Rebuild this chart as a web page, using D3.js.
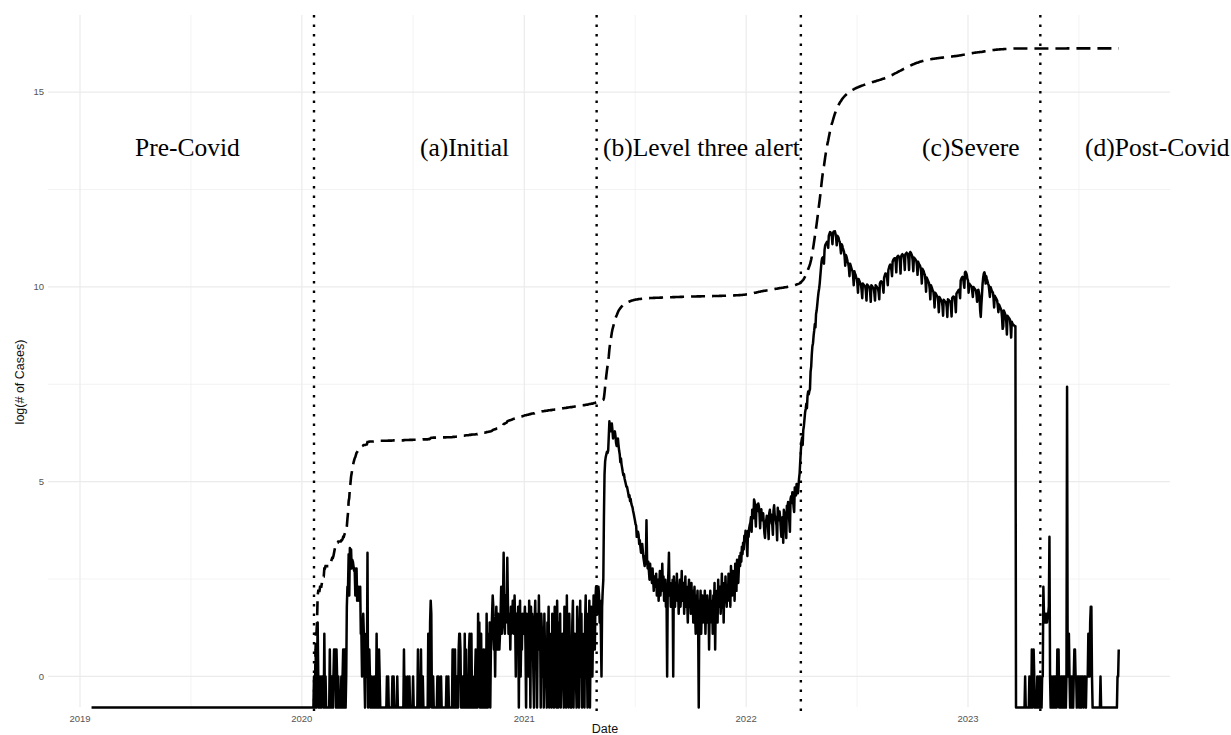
<!DOCTYPE html>
<html>
<head>
<meta charset="utf-8">
<script src="https://cdn.jsdelivr.net/npm/d3@7"></script>
<style>
  html, body { margin: 0; padding: 0; background: #ffffff; }
  svg { display: block; }
</style>
</head>
<body>
<svg id="chart" width="1231" height="735"></svg>
<script>
// Daily confirmed cases, one inner array per calendar month.
// 2020 begins on 21 January (first reported case).
const cases2020 = [
  [1,0,0,2,0,1,4,1,0,0,1],
  [0,0,1,1,1,0,3,0,1,0, 0,0,0,0,0,2,0,0,1,1, 0,1,2,2,2,0,2,1,0],
  [1,0,0,0,0,1,0,1,2,0, 2,2,0,1,6,10,10,23,8,27, 18,26,16,20,19,17,15,15,8,16, 16],
  [7,9,10,7,8,10,3,3,1,3, 5,3,1,0,2,3,1,24,0,2, 2,1,0,0,1,0,0,0,1,0],
  [0,0,3,0,0,0,2,1,0,0, 0,0,0,0,0,0,0,0,0,1, 0,1,0,0,0,0,0,0,1,0, 1],
  [0,0,0,0,0,1,0,0,0,0, 0,0,0,0,0,0,2,0,1,0, 0,0,1,0,0,1,0,0,0,0],
  [0,1,0,0,0,0,0,0,0,2, 0,0,0,0,2,0,0,1,0,0, 0,0,0,0,0,0,3,0,0,4, 7],
  [5,0,0,1,0,0,0,0,0,0, 1,0,1,0,0,0,1,0,0,0, 0,0,0,0,0,1,0,0,1,0, 0],
  [0,0,0,0,2,2,0,0,2,0, 0,1,0,0,2,3,3,2,0,0, 0,1,0,0,3,0,2,0,1,0],
  [0,2,3,0,0,3,0,1,0,0, 0,1,2,0,2,0,5,1,4,0, 3,3,0,1,0,2,1,0,2,0, 5],
  [1,0,3,1,4,0,2,3,5,8, 6,2,3,1,4,6,3,2,5,4, 2,3,5,10,3,4,7,24,5,3],
  [8,4,6,21,7,3,4,5,2,6, 3,4,7,5,3,8,4,1,5,2, 3,6,0,4,7,1,3,2,5,4, 3]
];
const cases2021 = [
  [4,6,2,0,5,3,3,1,7,4, 0,6,2,5,3,1,0,4,7,2, 5,0,3,2,8,2,4,0,5,3, 1],
  [3,0,5,2,1,1,0,4,2,6, 0,3,1,1,0,5,2,1,0,6, 1,3,0,7,2,0,4,1],
  [5,0,2,1,3,1,0,6,2,1, 0,8,1,3,0,5,2,1,0,1, 4,7,0,2,3,1,1,0,6,2, 4],
  [0,3,7,1,5,0,2,1,3,0, 4,8,1,2,0,5,3,7,0,2, 6,4,1,3,8,5,2,7,10,6],
  [6,5,10,8,4,7,3,1,6,9, 12,60,180,250,280,300,320,310,330,480, 700,600,540,590,660,560,450,500,520,540, 480],
  [400,370,420,450,380,330,300,245,270,230, 210,190,175,180,160,150,140,130,130,120, 110,100,105,90,95,85,80,77,70,65],
  [60,55,50,48,36,36,41,38,30,33, 28,24,27,30,25,21,19,17,22,18, 55,20,16,19,15,12,18,13,14,11, 16],
  [12,9,13,10,11,14,8,9,12,7, 10,15,8,11,9,18,10,13,7,9, 12,6,8,1,10,14,24,8,11,6, 9],
  [7,12,1,13,9,6,11,8,14,7, 10,5,9,12,6,8,15,7,9,11, 5,8,13,6,10,7,4,9,12,6],
  [8,5,11,6,9,4,7,10,5,3, 8,6,9,4,0,7,5,9,3,6, 8,4,7,5,9,3,6,4,8,5, 7],
  [2,6,9,5,4,7,3,8,6,11, 2,7,5,9,4,12,6,8,10,5, 7,14,6,9,4,11,7,13,8,6],
  [10,7,14,9,12,6,17,11,8,15, 10,13,7,18,12,9,20,14,11,16, 22,17,24,19,28,23,31,26,37,33, 42]
];
const cases2022 = [
  [38,29,22,42,36,45,49,52,60,41, 72,65,58,94,88,62,47,82,76,70, 85,78,64,45,68,73,55,61,66,52, 40],
  [35,48,55,62,58,47,34,66,72,57, 64,51,49,38,70,81,63,59,54,48, 33,76,62,55,69,58,44,36],
  [45,60,31,72,66,58,47,35,80,76, 88,69,54,41,95,102,86,113,97,78, 68,128,117,104,140,125,110,130,160,185, 250],
  [330,420,460,380,560,620,740,880,960,1100, 980,1350,1500,1400,1520,1600,2500,2850,3900,4800, 5200,6300,7200,8500,7800,11000,12000,14000,16500,19000],
  [21000,24000,29000,35000,42000,46000,47000,46000,40000,57000, 64000,66000,68000,70000,67000,60000,82000,86000,90000,89000, 84000,80000,66000,88000,91000,88000,92000,86000,78000,64000, 82000],
  [80000,78000,72000,70000,62000,52000,66000,64000,60000,57000, 54000,48000,38000,50000,48000,45000,42000,40000,36000,29000, 40000,38000,36000,34000,33000,29000,23000,33000,31000,30000],
  [28000,27000,24000,19000,27000,26000,25000,24000,23000,20000, 16500,24000,23500,23000,22500,22000,19500,15500,23500,23000, 22500,22000,21500,19000,15000,23000,22500,22000,21500,21000, 18500],
  [15500,23000,22500,22000,21500,21000,19000,16000,24000,25000, 25500,25000,24500,22000,19000,28000,29500,31000,31000,30500, 27000,23000,34000,36000,38000,39000,38000,34000,29000,42000, 44000],
  [45000,46000,46000,41000,32000,47000,48000,49000,48000,47000, 41000,31000,48000,50000,51000,50000,49000,44000,34000,51000, 52000,53000,52000,51000,45000,34000,52000,54000,53000,51000],
  [49000,43000,33000,47000,46000,45000,44000,43000,38000,30000, 42000,40000,39000,38000,36000,32000,24000,35000,34000,33000, 31000,30000,26000,19500,28000,27000,26000,25000,24000,21000, 16000],
  [23000,22000,21000,20000,19500,17000,13000,19000,18500,18000, 17500,17000,15000,11500,17000,16500,16000,15500,15000,13500, 10500,15800,15500,15200,15000,14800,13000,10200,16000,15800],
  [15500,15300,15000,13000,10300,16500,17000,17200,17000,16500, 14500,11500,18500,19000,19500,20000,20500,19000,16500,26000, 27000,28000,28500,28000,24000,21500,32000,32500,31500,30000, 27000]
];
const cases2023 = [
  [26000,19000,24000,23500,23000,22500,22000,19500,17000,22000, 21500,21000,20500,20000,18000,15000,20000,20500,19000,17000, 12000,10200,14000,18000,24000,28000,31000,32000,30000,24000, 29000],
  [27000,25500,24000,23000,20000,17000,22000,21000,20000,19500, 19000,16500,13000,17500,17000,16500,16000,15500,13500,11500, 14000,13500,13000,12500,12000,10000,7500,8000],
  [12000,11500,11000,10500,9000,6500,10500,10200,10000,9800, 9500,8000,6000,9000,8600,8400,8300,8200,8000,8000, 0,0,0,0,0,0,0,0,0,0, 0],
  [0,0,0,0,1,0,0,0,0,0, 0,1,0,1,0,2,0,1,2,1, 0,0,0,0,1,0,0,1,0,1],
  [0,0,1,1,10,5,5,4,5,5, 4,5,5,6,36,1,0,1,0,0, 1,0,1,0,1,0,0,2,1,2, 0],
  [1,0,1,1,0,1,1,0,1,1, 0,1,1700,1,3,3,1,0,1,1, 0,1,0,1,2,2,1,1,0,1],
  [1,1,0,1,1,0,1,1,1,0, 1,1,1,0,1,1,1,3,3,1, 4,6,6,1,0,0,0,0,0,0, 0],
  [0,0,0,0,0,0,1,0,0,0, 0,0,0,0,0,0,0,0,0,0, 0,0,0,0,0,0,0,0,0,0, 0],
  [0,0,0,1,1,2]
];

// Stretch before the first case: no cases on any day.
const quietFrom = "2019-01-20";
const quietTo = "2020-01-20";
const firstCaseDay = 21;          // day of January 2020 on which counting starts
const zeroFloor = -0.8;           // height plotted for a day with no cases

const phaseStarts = ["2020-01-21", "2021-04-30", "2022-04-01", "2023-04-30"];
const phaseNames = ["Pre-Covid", "(a)Initial", "(b)Level three alert", "(c)Severe", "(d)Post-Covid"];
const yearTicks = ["2019", "2020", "2021", "2022", "2023"];
const yTicks = [0, 5, 10, 15];

// ---------- assemble the daily series ----------
function monthsToDays(year, months, firstDay) {
  const out = [];
  months.forEach((arr, m) => {
    const start = m === 0 ? firstDay : 1;
    arr.forEach((c, i) => out.push({ date: new Date(Date.UTC(year, m, start + i)), count: c }));
  });
  return out;
}
const daily = [].concat(
  monthsToDays(2020, cases2020, firstCaseDay),
  monthsToDays(2021, cases2021, 1),
  monthsToDays(2022, cases2022, 1),
  monthsToDays(2023, cases2023, 1)
);
const logCount = c => (c > 0 ? Math.log(c) : zeroFloor);

const dailySeries = [
  { date: new Date(quietFrom), v: zeroFloor },
  { date: new Date(quietTo), v: zeroFloor }
].concat(daily.map(d => ({ date: d.date, v: logCount(d.count) })));

let running = 0;
const cumulativeSeries = daily.map(d => {
  running += d.count;
  return { date: d.date, v: Math.log(running) };
});

// ---------- layout ----------
const svg = d3.select("#chart");
const panel = { left: 48, right: 1170, top: 15, bottom: 708 };

const x = d3.scaleUtc()
  .domain([new Date("2019-01-01"), new Date("2023-01-01")])
  .range([80, 968]);
const y = d3.scaleLinear()
  .domain([-0.81, 16.98])
  .range([panel.bottom, panel.top]);

const grid = svg.append("g");
const gridColor = "#ebebeb";

// horizontal grid: minor halfway between major ticks
const yMinor = d3.pairs(yTicks).map(([a, b]) => (a + b) / 2);
grid.selectAll("line.ymin").data(yMinor).join("line")
  .attr("x1", panel.left).attr("x2", panel.right)
  .attr("y1", d => y(d)).attr("y2", d => y(d))
  .attr("stroke", gridColor).attr("stroke-width", 0.6);
grid.selectAll("line.ymaj").data(yTicks).join("line")
  .attr("x1", panel.left).attr("x2", panel.right)
  .attr("y1", d => y(d)).attr("y2", d => y(d))
  .attr("stroke", gridColor).attr("stroke-width", 1.2);

// vertical grid: years and mid-years
const years = d3.utcYear.range(new Date("2019-01-01"), new Date("2025-01-01"));
const midYears = d3.pairs(years).map(([a, b]) => new Date((+a + +b) / 2));
const inPanel = d => x(d) >= panel.left && x(d) <= panel.right;
grid.selectAll("line.xmin").data(midYears.filter(inPanel)).join("line")
  .attr("x1", d => x(d)).attr("x2", d => x(d))
  .attr("y1", panel.top).attr("y2", panel.bottom - 1)
  .attr("stroke", gridColor).attr("stroke-width", 0.6);
grid.selectAll("line.xmaj").data(years.filter(inPanel)).join("line")
  .attr("x1", d => x(d)).attr("x2", d => x(d))
  .attr("y1", panel.top).attr("y2", panel.bottom - 1)
  .attr("stroke", gridColor).attr("stroke-width", 1.2);

// axis text
const sans = "'Liberation Sans', Arial, Helvetica, sans-serif";
svg.append("g").selectAll("text").data(yTicks).join("text")
  .attr("x", 44).attr("y", d => y(d)).attr("dy", "0.35em")
  .attr("text-anchor", "end")
  .attr("font-family", sans).attr("font-size", 9.5).attr("fill", "#555")
  .text(d => d);
svg.append("g").selectAll("text").data(yearTicks).join("text")
  .attr("x", d => x(new Date(d + "-01-01"))).attr("y", 722)
  .attr("text-anchor", "middle")
  .attr("font-family", sans).attr("font-size", 9.5).attr("fill", "#555")
  .text(d => d);
svg.append("text")
  .attr("x", 605).attr("y", 733)
  .attr("text-anchor", "middle")
  .attr("font-family", sans).attr("font-size", 12.5).attr("fill", "#111")
  .text("Date");
svg.append("text")
  .attr("transform", "translate(20,382) rotate(-90)")
  .attr("dy", "0.35em")
  .attr("text-anchor", "middle")
  .attr("font-family", sans).attr("font-size", 12.5).attr("fill", "#111")
  .text("log(# of Cases)");

// phase boundaries
svg.append("g").selectAll("line").data(phaseStarts).join("line")
  .attr("x1", d => x(new Date(d))).attr("x2", d => x(new Date(d)))
  .attr("y1", panel.top).attr("y2", 713)
  .attr("stroke", "#000").attr("stroke-width", 2.4)
  .attr("stroke-dasharray", "2.4,7.1");

// series
const line = d3.line()
  .x(d => x(d.date))
  .y(d => y(d.v));

svg.append("path")
  .datum(dailySeries)
  .attr("d", line)
  .attr("fill", "none").attr("stroke", "#000")
  .attr("stroke-width", 2.5).attr("stroke-linejoin", "round");

svg.append("path")
  .datum(cumulativeSeries)
  .attr("d", line)
  .attr("fill", "none").attr("stroke", "#000")
  .attr("stroke-width", 2.6).attr("stroke-dasharray", "14,7");

// phase names
const labelX = [135, 420, 603, 922, 1085];
svg.append("g").selectAll("text").data(phaseNames).join("text")
  .attr("x", (d, i) => labelX[i]).attr("y", 156)
  .attr("font-family", "'Liberation Serif', 'Times New Roman', Times, serif")
  .attr("font-size", 25.5).attr("fill", "#000")
  .text(d => d);
</script>
</body>
</html>
